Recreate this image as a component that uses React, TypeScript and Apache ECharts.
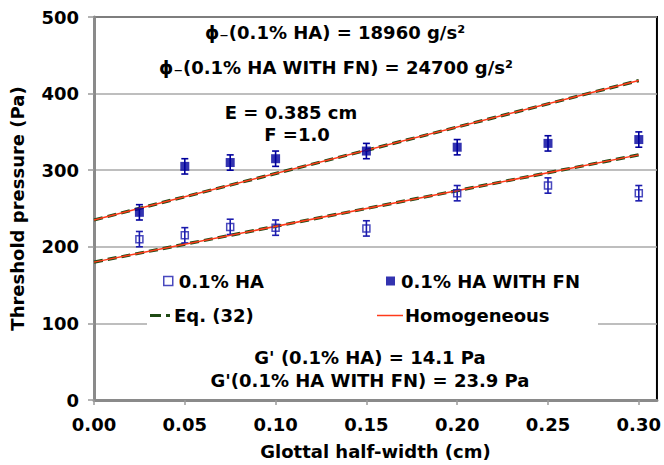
import React, { useEffect, useRef } from "react";
import * as echarts from "echarts";

// ---- data ----
const X_POINTS = [0.025, 0.05, 0.075, 0.1, 0.15, 0.2, 0.25, 0.3];
const HA_VALUES = [210, 215, 226, 225, 224, 270, 280, 270];
const HA_ERRORS = [10, 10, 10, 10, 10, 10, 10, 10];
const FN_VALUES = [245, 305, 310, 315, 325, 330, 335, 340];
const FN_ERRORS = [10, 10, 10, 10, 10, 10, 10, 10];
const LINE_X = [0, 0.3];
const MODEL_HA = [180, 320];
const MODEL_FN = [235, 417];

const FONT = "'DejaVu Sans', Verdana, sans-serif";
const BLUE_OPEN = "#1c1cae";
const BLUE_FILL = "#00009c";
const GREEN = "#1f4a14";
const RED = "#ff3a1a";

const textBase = { fontFamily: FONT, fontWeight: "bold", fontSize: 18, color: "#000" };

function pairs(xs: number[], ys: number[]) {
  return xs.map((x, i) => [x, ys[i]]);
}

function errorSeries(values: number[], errors: number[], color: string) {
  return {
    type: "custom",
    silent: true,
    z: 3,
    encode: { x: 0, y: [1, 2] },
    data: X_POINTS.map((x, i) => [x, values[i] - errors[i], values[i] + errors[i]]),
    renderItem: (_params: any, api: any) => {
      const x = api.value(0);
      const lo = api.coord([x, api.value(1)]);
      const hi = api.coord([x, api.value(2)]);
      const w = 3.5;
      const st = { stroke: color, lineWidth: 1.6 };
      return {
        type: "group",
        children: [
          { type: "line", shape: { x1: lo[0], y1: lo[1], x2: hi[0], y2: hi[1] }, style: st },
          { type: "line", shape: { x1: lo[0] - w, y1: lo[1], x2: lo[0] + w, y2: lo[1] }, style: st },
          { type: "line", shape: { x1: hi[0] - w, y1: hi[1], x2: hi[0] + w, y2: hi[1] }, style: st },
        ],
      };
    },
  };
}

function lineSeries(name: string, ys: number[], kind: "eq" | "hom") {
  return {
    type: "line",
    name,
    data: pairs(LINE_X, ys),
    symbol: "none",
    showSymbol: false,
    silent: true,
    z: kind === "eq" ? 2 : 3,
    lineStyle:
      kind === "eq"
        ? { color: GREEN, width: 3.2, type: [9, 5] }
        : { color: RED, width: 1.5, type: "solid" },
    itemStyle: { color: kind === "eq" ? GREEN : RED },
  };
}

function annotation(text: string, x: number, y: number) {
  return {
    type: "text",
    x,
    y,
    z: 10,
    style: {
      text,
      x: 0,
      y: 0,
      align: "center",
      verticalAlign: "middle",
      font: `bold 18px ${FONT}`,
      fill: "#000",
    },
  };
}

function legendStroke(x1: number, x2: number, y: number, color: string, width: number) {
  return {
    type: "line",
    z: 10,
    silent: true,
    shape: { x1, y1: y, x2, y2: y },
    style: { stroke: color, lineWidth: width },
  };
}

function singleLegend(name: string, left: number, top: number, itemWidth: number, itemHeight: number, extra: any) {
  return {
    data: [{ name, ...extra }],
    left,
    top,
    orient: "horizontal",
    itemWidth,
    itemHeight,
    itemGap: 5,
    padding: 0,
    selectedMode: false,
    textStyle: { ...textBase, padding: [0, 0, 0, 1] },
  };
}

export default function App() {
  const ref = useRef<HTMLDivElement>(null);

  useEffect(() => {
    if (!ref.current) return;
    const chart = echarts.init(ref.current, undefined, { renderer: "svg" });
    chart.setOption({
      animation: false,
      backgroundColor: "#fff",
      grid: {
        left: 94,
        right: 7,
        top: 17,
        bottom: 64,
        show: true,
        borderColor: "#000",
        borderWidth: 2,
        backgroundColor: "transparent",
      },
      xAxis: {
        type: "value",
        min: 0,
        max: 0.31,
        interval: 0.05,
        name: "Glottal half-width (cm)",
        nameLocation: "middle",
        nameGap: 42,
        nameTextStyle: { ...textBase },
        axisLine: { show: true, onZero: false, lineStyle: { color: "#8a8a8a", width: 3 } },
        axisTick: { show: true, inside: false, length: 5, lineStyle: { color: "#9a9a9a", width: 1.5 } },
        axisLabel: {
          ...textBase,
          margin: 15,
          showMaxLabel: false,
          formatter: (v: number) => v.toFixed(2),
        },
        splitLine: { show: false },
      },
      yAxis: {
        type: "value",
        min: 0,
        max: 500,
        interval: 100,
        name: "Threshold pressure (Pa)",
        nameLocation: "middle",
        nameGap: 68,
        nameRotate: 90,
        nameTextStyle: { ...textBase },
        axisLine: { show: true, onZero: false, lineStyle: { color: "#8a8a8a", width: 3 } },
        axisTick: { show: true, inside: false, length: 6, lineStyle: { color: "#9a9a9a", width: 1.5 } },
        axisLabel: { ...textBase, margin: 15 },
        splitLine: { show: true, lineStyle: { color: "#a8a8a8", width: 1.6 } },
      },
      legend: [
        singleLegend("0.1% HA", 163, 272, 9, 9, {
          icon: "rect",
          itemStyle: { color: "rgba(0,0,0,0)", borderColor: BLUE_OPEN, borderWidth: 1.5 },
        }),
        singleLegend("0.1% HA WITH FN", 386, 272, 9, 9, {
          icon: "rect",
          itemStyle: { color: BLUE_FILL, borderWidth: 0 },
        }),
        singleLegend("Eq. (32)", 147, 306, 21, 14, { icon: "none" }),
        singleLegend("Homogeneous", 374, 306, 25, 14, { icon: "none" }),
      ],
      graphic: [
        {
          type: "rect",
          z: 1,
          silent: true,
          shape: { x: 147, y: 262, width: 451, height: 76 },
          style: { fill: "#fff" },
        },
        legendStroke(150, 161, 315.5, GREEN, 3),
        legendStroke(166, 170, 315.5, GREEN, 3),
        legendStroke(377, 403, 315.5, RED, 1.5),
        annotation("\u03d5\u208b(0.1% HA) = 18960 g/s\u00b2", 335, 32),
        annotation("\u03d5\u208b(0.1% HA WITH FN) = 24700 g/s\u00b2", 336, 67),
        annotation("E = 0.385 cm", 291, 112),
        annotation("F =1.0", 297, 134),
        annotation("G' (0.1% HA) = 14.1 Pa", 370, 357),
        annotation("G'(0.1% HA WITH FN) = 23.9 Pa", 370, 380),
      ],
      series: [
        lineSeries("Eq. (32)", MODEL_HA, "eq"),
        lineSeries("Eq. (32)", MODEL_FN, "eq"),
        lineSeries("Homogeneous", MODEL_HA, "hom"),
        lineSeries("Homogeneous", MODEL_FN, "hom"),
        errorSeries(HA_VALUES, HA_ERRORS, BLUE_OPEN),
        errorSeries(FN_VALUES, FN_ERRORS, BLUE_FILL),
        {
          type: "scatter",
          name: "0.1% HA",
          data: pairs(X_POINTS, HA_VALUES),
          symbol: "rect",
          symbolSize: 7,
          z: 4,
          silent: true,
          itemStyle: { color: "rgba(0,0,0,0)", borderColor: BLUE_OPEN, borderWidth: 1.5 },
        },
        {
          type: "scatter",
          name: "0.1% HA WITH FN",
          data: pairs(X_POINTS, FN_VALUES),
          symbol: "rect",
          symbolSize: 9,
          z: 4,
          silent: true,
          itemStyle: { color: BLUE_FILL },
        },
      ],
    });
    return () => chart.dispose();
  }, []);

  return (
    <div
      ref={ref}
      style={{ position: "fixed", left: 0, top: 0, width: 664, height: 465, background: "#fff" }}
    />
  );
}
